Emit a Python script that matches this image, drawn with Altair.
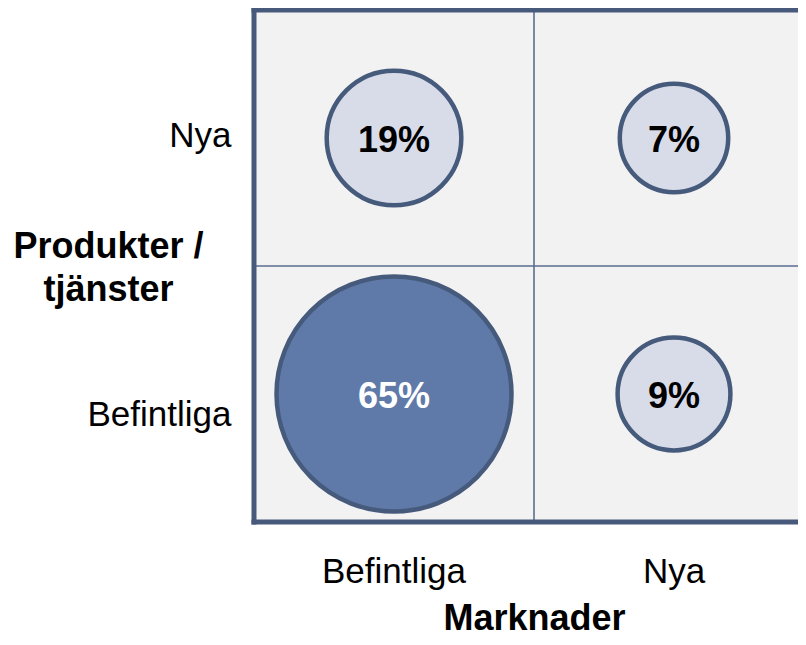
import altair as alt
import pandas as pd

# ---- data ----
markets = ["Befintliga", "Nya", "Befintliga", "Nya"]        # x category of each bubble
products = ["Nya", "Nya", "Befintliga", "Befintliga"]       # y category of each bubble
shares = [19, 7, 65, 9]                                     # percent
market_order = ["Befintliga", "Nya"]
product_order = ["Nya", "Befintliga"]
x_title = "Marknader"
y_title = ["Produkter /", "tjänster"]

df = pd.DataFrame({"Marknad": markets, "Produkt": products, "Andel": shares})
one = pd.DataFrame({"k": [0]})

FONT = "Liberation Sans"
BORDER = "#475a7b"
GRID = "#5a6d90"
STROKE = "#465a7c"
DARK = "#5f7aa9"
LIGHT = "#d7dce8"
BG = "#f2f2f2"

x_scale = alt.Scale(type="band", domain=market_order, range=[0, 560],
                    paddingInner=0, paddingOuter=0)
y_scale = alt.Scale(type="band", domain=product_order,
                    paddingInner=0, paddingOuter=0)

x_axis = alt.Axis(
    title=x_title, titleFont=FONT, titleFontSize=36, titleFontWeight="bold",
    titleColor="black", titleX=280, titleY=107, titleAlign="center",
    titleBaseline="alphabetic",
    labelFont=FONT, labelFontSize=35, labelColor="black", labelPadding=60,
    labelBaseline="alphabetic", labelAngle=0,
    ticks=False, tickSize=0, domain=False, grid=False,
)
y_axis = alt.Axis(
    title=y_title, titleFont=FONT, titleFontSize=36, titleFontWeight="bold",
    titleColor="black", titleAngle=0, titleX=-146, titleY=247,
    titleAlign="center", titleBaseline="alphabetic", titleLineHeight=43,
    labelFont=FONT, labelFontSize=35, labelColor="black", labelPadding=23,
    labelBaseline="middle",
    labelOffset={"condition": {"test": "datum.value == 'Befintliga'", "value": 21},
                 "value": -2},
    ticks=False, tickSize=0, domain=False, grid=False,
)

X = alt.X("Marknad:N", scale=x_scale, axis=x_axis)
Y = alt.Y("Produkt:N", scale=y_scale, axis=y_axis)


def xdat(v, bp):
    return alt.X(datum=v, type="nominal", bandPosition=bp, scale=x_scale, axis=x_axis)


def ydat(v, bp):
    return alt.Y(datum=v, type="nominal", bandPosition=bp, scale=y_scale, axis=y_axis)


# dividing lines and borders (positions taken from the band scales)
v_div = alt.Chart(one).mark_rule(color=GRID, strokeWidth=1.6).encode(x=xdat("Nya", 0))
h_div = alt.Chart(one).mark_rule(color=GRID, strokeWidth=1.6).encode(y=ydat("Befintliga", 0))
left_b = alt.Chart(one).mark_rule(color=BORDER, strokeWidth=5, strokeCap="square").encode(
    x=xdat("Befintliga", 0))
top_b = alt.Chart(one).mark_rule(color=BORDER, strokeWidth=5, strokeCap="square").encode(
    y=ydat("Nya", 0))
bot_b = alt.Chart(one).mark_rule(color=BORDER, strokeWidth=5, strokeCap="square").encode(
    y=ydat("Befintliga", 1))

base = alt.Chart(df)

circles = base.mark_circle(opacity=1, stroke=STROKE, strokeWidth=4.5).transform_calculate(
    s="datum.Andel + 42.7"
).encode(
    x=X, y=Y,
    size=alt.Size("s:Q", scale=alt.Scale(type="pow", exponent=2, domain=[0, 107.7],
                                         range=[0, 55225]), legend=None),
    fill=alt.condition("datum.Andel > 50", alt.value(DARK), alt.value(LIGHT)),
)

texts = base.mark_text(font=FONT, fontSize=36, fontWeight="bold", baseline="middle",
                       dy=3).transform_calculate(
    lbl="datum.Andel + '%'"
).encode(
    x=X, y=Y,
    text="lbl:N",
    color=alt.condition("datum.Andel > 50", alt.value("white"), alt.value("black")),
)

chart = alt.layer(v_div, h_div, circles, texts, left_b, top_b, bot_b).properties(
    width=544, height=512,
    autosize=alt.AutoSizeParams(type="none"),
    padding={"left": 246, "top": 2, "right": 0, "bottom": 115},
    background="white",
).configure_view(stroke=None, fill=BG)

chart.save("out.html", embed_options={"renderer": "svg", "actions": False})
